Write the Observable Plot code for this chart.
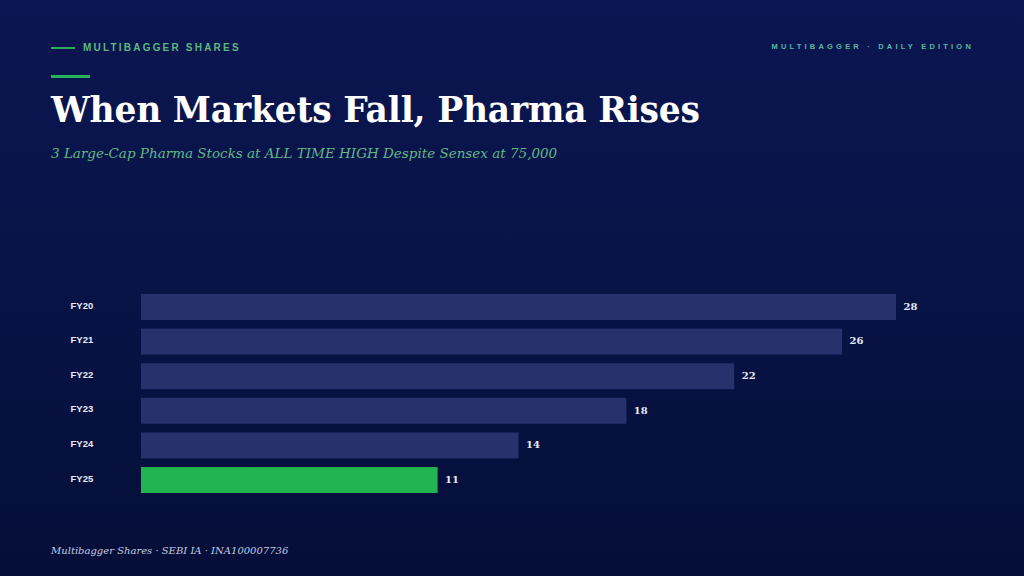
<!DOCTYPE html>
<html>
<head>
<meta charset="utf-8">
<script src="https://cdn.jsdelivr.net/npm/d3@7"></script>
<script src="https://cdn.jsdelivr.net/npm/@observablehq/plot@0.6"></script>
<style>
  html, body { margin: 0; padding: 0; }
  body {
    width: 1024px; height: 576px; overflow: hidden; position: relative;
    background: linear-gradient(180deg, #0b1652 0%, #081346 50%, #050e38 100%);
    font-family: "Liberation Sans", Arial, sans-serif;
  }
  .kicker { position: absolute; left: 51px; top: 42px; display: flex; align-items: center;
    color: #5cb87f; font: bold 10px "Liberation Sans", Arial, sans-serif; letter-spacing: 2.2px; }
  .kicker .dash { width: 24px; height: 2px; background: #2fae5a; margin-right: 8px; }
  .edition { position: absolute; right: 50px; top: 42px; color: #5cb8a0;
    font: bold 7.5px "Liberation Sans", Arial, sans-serif; letter-spacing: 3.2px; }
  .accent { position: absolute; left: 51px; top: 75px; width: 39px; height: 3px; background: #27b25a; }
  h1 { position: absolute; left: 51px; top: 91px; margin: 0; color: #ffffff;
    font: bold 34.5px "DejaVu Serif", Georgia, serif; letter-spacing: -0.2px; white-space: nowrap; line-height: 1.15; }
  .sub { position: absolute; left: 51px; top: 145px; margin: 0; color: #62b886;
    font: italic 13.5px "DejaVu Serif", Georgia, serif; white-space: nowrap; }
  #chart { position: absolute; left: 0; top: 278px; }
  #chart svg { display: block; }
  .foot { position: absolute; left: 51px; top: 545px; color: #c5cbe0;
    font: italic 10px "DejaVu Serif", Georgia, serif; white-space: nowrap; }
</style>
</head>
<body>
<div class="kicker"><span class="dash"></span>MULTIBAGGER SHARES</div>
<div class="edition">MULTIBAGGER · DAILY EDITION</div>
<div class="accent"></div>
<h1>When Markets Fall, Pharma Rises</h1>
<p class="sub">3 Large-Cap Pharma Stocks at ALL TIME HIGH Despite Sensex at 75,000</p>
<div id="chart"></div>
<div class="foot">Multibagger Shares · SEBI IA · INA100007736</div>
<script>
const years = ["FY20", "FY21", "FY22", "FY23", "FY24", "FY25"];
const values = [28, 26, 22, 18, 14, 11];
const highlight = "FY25";

const data = years.map((y, i) => ({year: y, value: values[i]}));

const chart = Plot.plot({
  width: 1024,
  height: 232,
  marginLeft: 141,
  marginRight: 128,
  marginTop: 16,
  marginBottom: 17,
  style: {background: "transparent", overflow: "visible"},
  x: {domain: [0, 28], axis: null},
  y: {domain: years, paddingInner: 0.25, paddingOuter: 0, round: false, label: null},
  marks: [
    Plot.barX(data, {
      y: "year", x: "value",
      fill: d => d.year === highlight ? "#22b450" : "#27316c"
    }),
    Plot.axisY({
      tickSize: 0, tickPadding: 71, textAnchor: "start", label: null, dy: -2,
      fill: "#e8ebf5", fontSize: 9.5, fontWeight: "bold",
      fontFamily: "Liberation Sans, Arial, sans-serif"
    }),
    Plot.text(data, {
      y: "year", x: "value", text: d => String(d.value),
      dx: 7, dy: -1, textAnchor: "start", fill: "#e8ebf5",
      fontSize: 10, fontWeight: "bold", fontFamily: "DejaVu Serif, Georgia, serif"
    })
  ]
});
document.getElementById("chart").appendChild(chart);
</script>
</body>
</html>
